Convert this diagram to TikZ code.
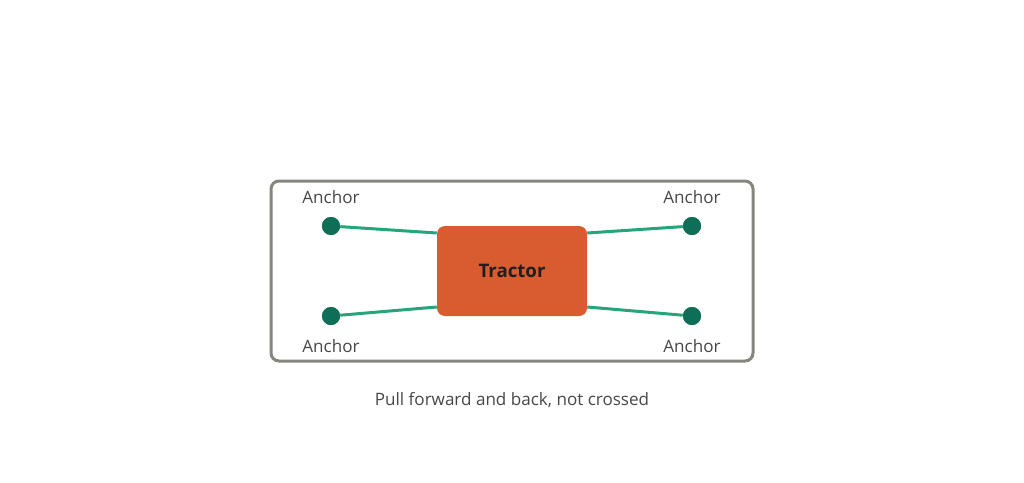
\documentclass[tikz,border=0pt]{standalone}
\usepackage{fontspec}
\setmainfont{Open Sans}
\usepackage{xcolor}
\usetikzlibrary{positioning}
\definecolor{framegray}{HTML}{86867E}
\definecolor{tractorred}{HTML}{D95B30}
\definecolor{anchorgreen}{HTML}{0F6E56}
\definecolor{ropegreen}{HTML}{25A678}
\definecolor{labelgray}{HTML}{474747}
\tikzstyle{frame} = [draw=framegray, line width=2.25pt, rounded corners=6pt]
\tikzstyle{tractor} = [fill=tractorred, rounded corners=6pt, minimum width=112.5pt, minimum height=67.5pt, text=black!88, font=\bfseries\fontsize{14}{16}\selectfont]
\tikzstyle{anchorpt} = [circle, fill=anchorgreen, minimum size=13.5pt, inner sep=0pt]
\tikzstyle{rope} = [draw=ropegreen, line width=2.25pt]
\tikzstyle{lbl} = [text=labelgray, font=\fontsize{12.8}{15}\selectfont]

\begin{document}
\begin{tikzpicture}[x=0.75pt, y=-0.75pt]
	\useasboundingbox (0,0) rectangle (1024,482);
	\draw[frame] (271,181) rectangle (753,361);
	\node[tractor] (t) at (512,271) {Tractor};
	\coordinate (tnw) at ([yshift=28.5pt]t.west);
	\coordinate (tsw) at ([yshift=-27pt]t.west);
	\coordinate (tne) at ([yshift=28.5pt]t.east);
	\coordinate (tse) at ([yshift=-27pt]t.east);
	\node[anchorpt] (a1) at (331,226) {};
	\node[anchorpt] (a2) at (331,316) {};
	\node[anchorpt] (a3) at (692,226) {};
	\node[anchorpt] (a4) at (692,316) {};
	\draw[rope] (a1) -- (tnw);
	\draw[rope] (a2) -- (tsw);
	\draw[rope] (a3) -- (tne);
	\draw[rope] (a4) -- (tse);
	\node[anchorpt] at (a1) {};
	\node[anchorpt] at (a2) {};
	\node[anchorpt] at (a3) {};
	\node[anchorpt] at (a4) {};
	\node[lbl, above = 6.5pt of a1] (l1) {Anchor};
	\node[lbl, below = 7.3pt of a2] (l2) {Anchor};
	\node[lbl, above = 6.5pt of a3] (l3) {Anchor};
	\node[lbl, below = 7.3pt of a4] (l4) {Anchor};
	\node[lbl] (cap) at (512,400) {Pull forward and back, not crossed};
\end{tikzpicture}
\end{document}
